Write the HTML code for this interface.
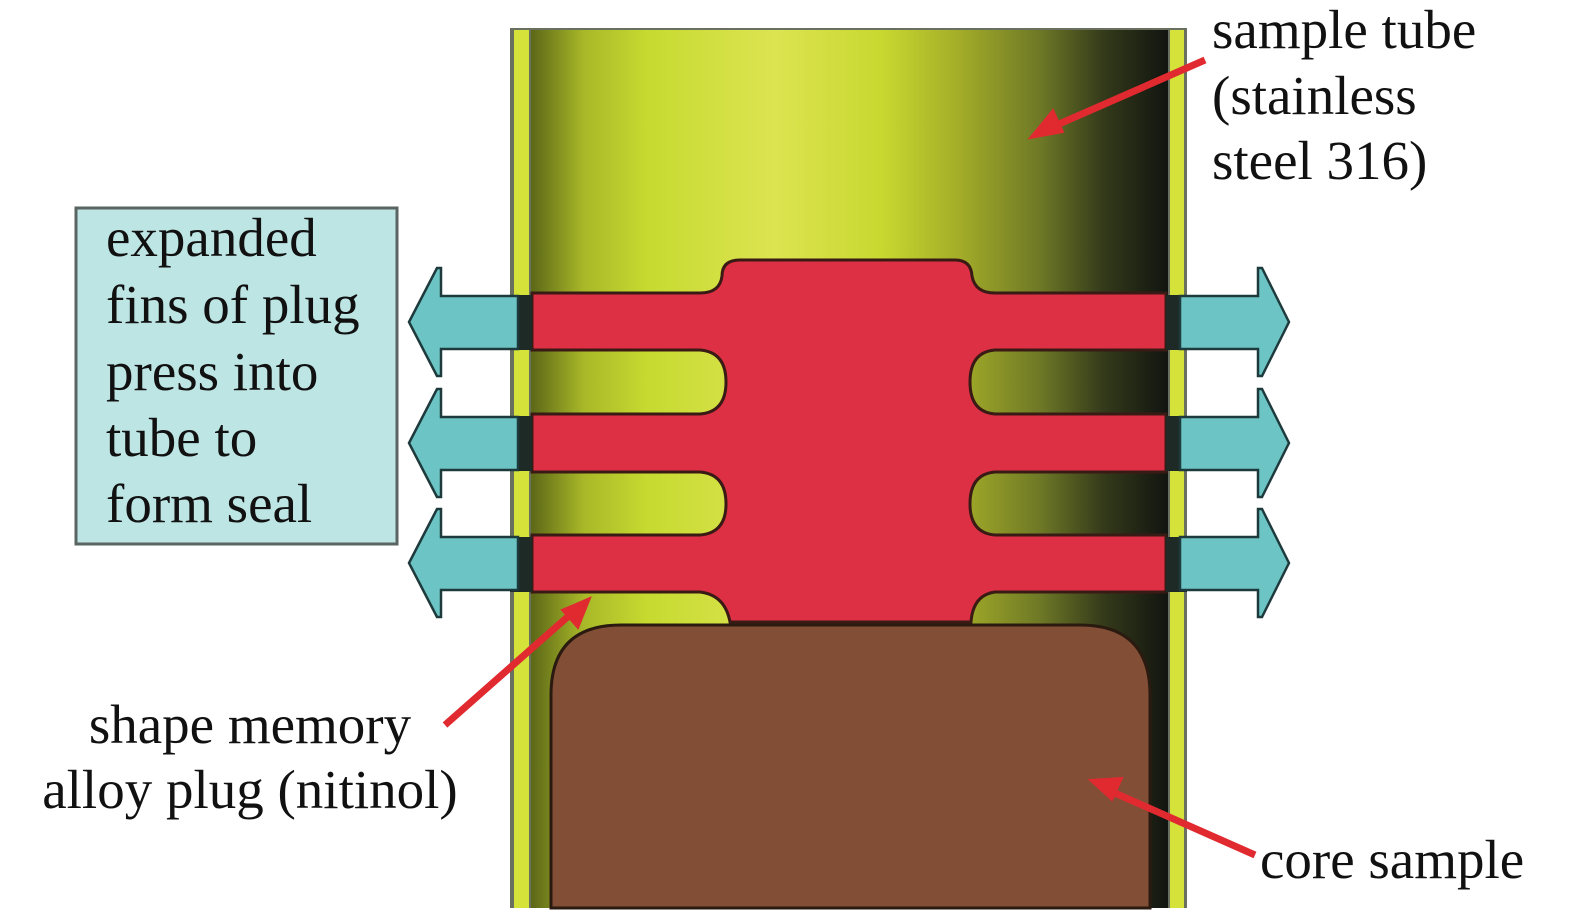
<!DOCTYPE html>
<html><head><meta charset="utf-8"><style>
html,body{margin:0;padding:0;background:#fff;}
svg{display:block}
text{font-family:"Liberation Serif",serif;font-size:55px;fill:#111;}
</style></head><body>
<svg width="1575" height="915" viewBox="0 0 1575 915" xmlns="http://www.w3.org/2000/svg">
<defs>
<linearGradient id="tg" x1="533" y1="0" x2="1167" y2="0" gradientUnits="userSpaceOnUse">
<stop offset="0" stop-color="#5f6a18"/>
<stop offset="0.08" stop-color="#a8b828"/>
<stop offset="0.18" stop-color="#c6da30"/>
<stop offset="0.38" stop-color="#dce450"/>
<stop offset="0.55" stop-color="#c8d830"/>
<stop offset="0.67" stop-color="#a4ae28"/>
<stop offset="0.8" stop-color="#6e7826"/>
<stop offset="0.9" stop-color="#343a1a"/>
<stop offset="1" stop-color="#121510"/>
</linearGradient>
</defs>
<rect x="510" y="28" width="677" height="880" fill="#6a7060"/>
<rect x="514" y="30" width="15" height="878" fill="#d4e23a"/>
<rect x="1170" y="30" width="14" height="878" fill="#d4e23a"/>
<rect x="531" y="30" width="637" height="878" fill="url(#tg)"/>
<path d="M722,276 Q722,260 740,260 L955,260 Q971,260 972,276 Q975,293 995,293 L1166,293 L1166,350 L995,350 Q970,352 970,382 Q970,412 995,414 L1166,414 L1166,472 L995,472 Q970,474 970,504 Q970,533 995,535 L1166,535 L1166,592 L995,592 Q973,595 971,622 L730,622 Q725,595 700,592 L532,592 L532,535 L700,535 Q726,533 726,504 Q726,474 700,472 L532,472 L532,414 L700,414 Q726,412 726,382 Q726,352 700,350 L532,350 L532,293 L700,293 Q720,293 722,276 Z" fill="#de3044" stroke="#3a1a14" stroke-width="3"/>
<path d="M551,908 L551,695 Q551,625 621,625 L1080,625 Q1150,625 1150,695 L1150,908 Z" fill="#824f36" stroke="#2a1a10" stroke-width="3"/>
<g fill="#1d2a26">
<rect x="510" y="295" width="22" height="55"/><rect x="510" y="416" width="22" height="55"/><rect x="510" y="537" width="22" height="55"/>
<rect x="1166" y="295" width="21" height="55"/><rect x="1166" y="416" width="21" height="55"/><rect x="1166" y="537" width="21" height="55"/>
</g>
<g fill="#6cc4c4" stroke="#1e3a3c" stroke-width="2.5">
<polygon points="409,322 437,268 441,268 441,296 518,296 518,349 441,349 441,376 437,376"/>
<polygon points="409,443 437,389 441,389 441,417 518,417 518,470 441,470 441,497 437,497"/>
<polygon points="409,563 437,509 441,509 441,537 518,537 518,590 441,590 441,617 437,617"/>
<polygon points="1289,322 1262,268 1258,268 1258,296 1180,296 1180,349 1258,349 1258,376 1262,376"/>
<polygon points="1289,443 1262,389 1258,389 1258,417 1180,417 1180,470 1258,470 1258,497 1262,497"/>
<polygon points="1289,563 1262,509 1258,509 1258,537 1180,537 1180,590 1258,590 1258,617 1262,617"/>
</g>
<g stroke="#e02a30" stroke-width="7" fill="#e02a30">
<line x1="1205" y1="60" x2="1050" y2="128"/>
<polygon points="1030,138 1053,110 1063,132" stroke-width="2"/>
<line x1="445" y1="725" x2="572" y2="613"/>
<polygon points="590,598 578,628 562,610" stroke-width="2"/>
<line x1="1255" y1="855" x2="1108" y2="790"/>
<polygon points="1090,780 1122,778 1112,800" stroke-width="2"/>
</g>
<rect x="76" y="208" width="321" height="336" fill="#bde5e4" stroke="#5a6462" stroke-width="3"/>
<text x="106" y="256">expanded</text>
<text x="106" y="323">fins of plug</text>
<text x="106" y="390">press into</text>
<text x="106" y="456">tube to</text>
<text x="106" y="522">form seal</text>
<text x="1212" y="48">sample tube</text>
<text x="1212" y="114">(stainless</text>
<text x="1212" y="179">steel 316)</text>
<text x="250" y="743" text-anchor="middle">shape memory</text>
<text x="250" y="808" text-anchor="middle">alloy plug (nitinol)</text>
<text x="1260" y="878">core sample</text>
</svg>
</body></html>
